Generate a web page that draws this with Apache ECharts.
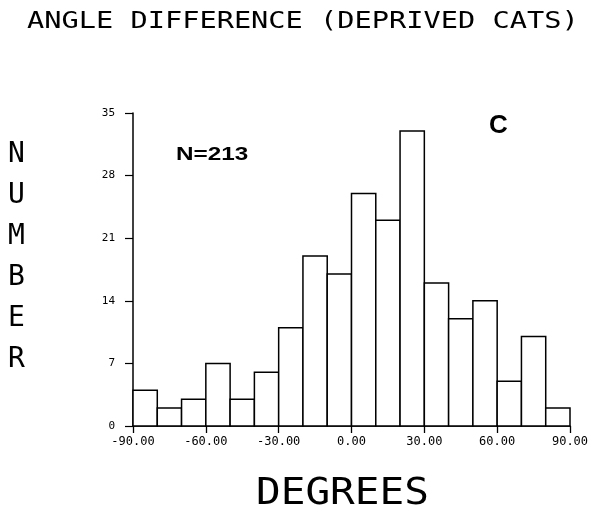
<!DOCTYPE html>
<html><head><meta charset="utf-8">
<script src="https://cdn.jsdelivr.net/npm/echarts@6/dist/echarts.min.js"></script>
<style>html,body{margin:0;padding:0;background:#fff}#c{width:594px;height:511px}</style>
</head><body><div id="c"></div>
<script>
var binStarts = [-90,-80,-70,-60,-50,-40,-30,-20,-10,0,10,20,30,40,50,60,70,80];
var binWidth = 10;
var counts = [4,2,3,7,3,6,11,19,17,26,23,33,16,12,14,5,10,2];
var yTicks = [0,7,14,21,28,35];
var xTicks = [-90,-60,-30,0,30,60,90];

var data = binStarts.map(function(s,i){return [s, s+binWidth, counts[i]];});
var mono = 'DejaVu Sans Mono';
var chart = echarts.init(document.getElementById('c'), null, {renderer:'canvas'});
chart.setOption({
  animation:false,
  backgroundColor:'#fff',
  grid:{left:133,right:24,top:113,bottom:85},
  xAxis:{
    type:'value', min:-90, max:90, interval:30,
    axisLine:{onZero:false,lineStyle:{color:'#000',width:1.5}},
    axisTick:{show:true,length:7,lineStyle:{color:'#000',width:1.3}},
    axisLabel:{color:'#000',fontFamily:mono,fontSize:12,margin:10,
      formatter:function(v){return v.toFixed(2);}},
    splitLine:{show:false}
  },
  yAxis:{
    type:'value', min:0, max:35, interval:7,
    axisLine:{show:true,onZero:false,lineStyle:{color:'#000',width:1.5}},
    axisTick:{show:true,length:8,lineStyle:{color:'#000',width:1.2}},
    axisLabel:{color:'#000',fontFamily:mono,fontSize:11,margin:18},
    splitLine:{show:false}
  },
  series:[{
    type:'custom',
    data:data,
    renderItem:function(params, api){
      var p0 = api.coord([api.value(0), api.value(2)]);
      var p1 = api.coord([api.value(1), 0]);
      return {type:'rect', shape:{x:p0[0], y:p0[1], width:p1[0]-p0[0], height:p1[1]-p0[1]},
        style:{fill:'#fff', stroke:'#000', lineWidth:1.5}};
    }
  }],
  graphic:[
    {type:'text', left:27, top:11, scaleX:1.245,
      style:{text:'ANGLE DIFFERENCE (DEPRIVED CATS)', font:'23px "DejaVu Sans Mono"', fill:'#000'}},
    {type:'text', left:8, top:134,
      style:{text:'N\nU\nM\nB\nE\nR', font:'28px "DejaVu Sans Mono"', lineHeight:41, fill:'#000', align:'center'}},
    {type:'text', left:256, top:475, scaleX:1.08,
      style:{text:'DEGREES', font:'38px "DejaVu Sans Mono"', fill:'#000'}},
    {type:'text', left:489, top:113,
      style:{text:'C', font:'bold 26px "Liberation Sans"', fill:'#000'}},
    {type:'text', left:176, top:146, scaleX:1.35,
      style:{text:'N=213', font:'bold 18px "Liberation Sans"', fill:'#000'}}
  ]
});
</script></body></html>
